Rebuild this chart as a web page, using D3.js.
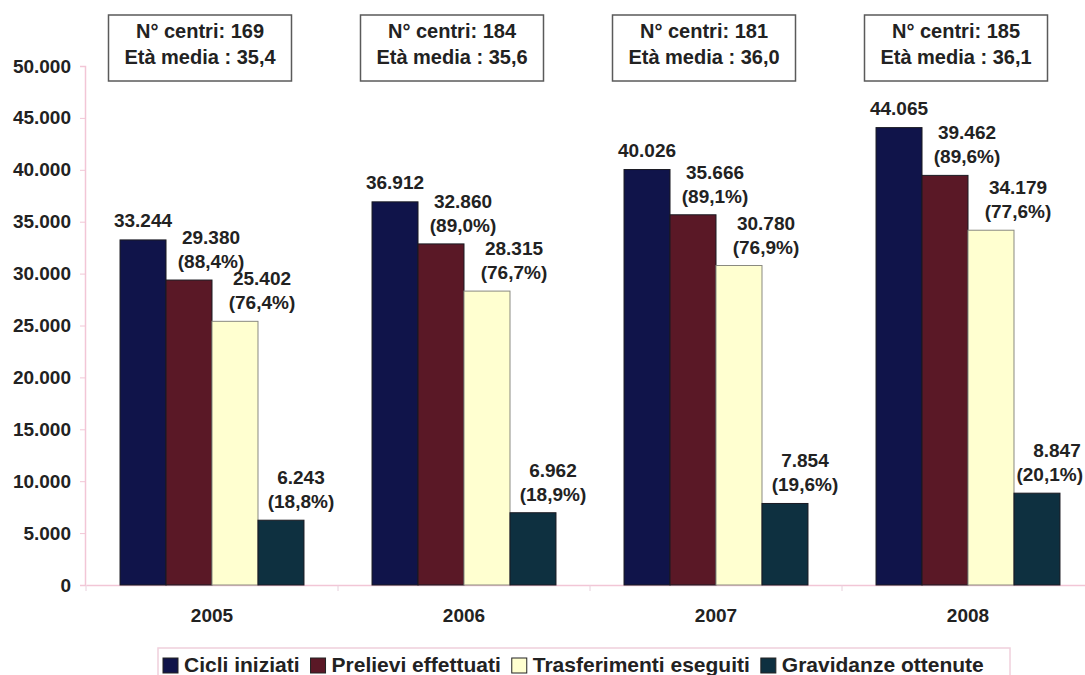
<!DOCTYPE html>
<html><head><meta charset="utf-8">
<script src="https://cdn.jsdelivr.net/npm/d3@7"></script>
<style>
body{margin:0;background:#fff;}
svg text{font-family:"Liberation Sans",Arial,sans-serif;font-weight:bold;fill:#222;}
</style></head>
<body>
<svg id="c" width="1085" height="675"></svg>
<script>
const years = ["2005","2006","2007","2008"];
const seriesNames = ["Cicli iniziati","Prelievi effettuati","Trasferimenti eseguiti","Gravidanze ottenute"];
const cicli = [33244, 36912, 40026, 44065];
const prelievi = [29380, 32860, 35666, 39462];
const trasferimenti = [25402, 28315, 30780, 34179];
const gravidanze = [6243, 6962, 7854, 8847];
const pctPrelievi = ["88,4%","89,0%","89,1%","89,6%"];
const pctTrasferimenti = ["76,4%","76,7%","76,9%","77,6%"];
const pctGravidanze = ["18,8%","18,9%","19,6%","20,1%"];
const centri = [169, 184, 181, 185];
const etaMedia = ["35,4","35,6","36,0","36,1"];
const yTicks = [0,5000,10000,15000,20000,25000,30000,35000,40000,45000,50000];
const colors = ["#10144a","#5a1826","#ffffd0","#0e3040"];

const values = [cicli, prelievi, trasferimenti, gravidanze];
const pcts = [null, pctPrelievi, pctTrasferimenti, pctGravidanze];
const labelShift = [0, 22, 27, 20];
const fmt = v => d3.format(",")(v).replace(/,/g,".");
const W = 1085;

const svg = d3.select("#c");
const x0 = d3.scaleBand().domain(years).range([86,1094]).paddingInner(0.27).paddingOuter(0.135);
const x1 = d3.scaleBand().domain(seriesNames).range([0, x0.bandwidth()]);
const y = d3.scaleLinear().domain([0,50000]).range([585,66]);

// y axis
const yAxis = svg.append("g").attr("transform","translate(85,0)")
  .call(d3.axisLeft(y).tickValues(yTicks).tickSize(5).tickPadding(9).tickFormat(fmt));
yAxis.select(".domain").attr("stroke","#f2c6d6").attr("stroke-width",1.5);
yAxis.selectAll(".tick line").attr("stroke","#f2c6d6");
yAxis.selectAll(".tick text").style("font-size","19px").attr("fill","#222");

// x axis
const xAxis = svg.append("g").attr("transform","translate(0,585)")
  .call(d3.axisBottom(x0).tickSize(0).tickPadding(24));
xAxis.select(".domain").attr("stroke","#f2c6d6").attr("stroke-width",1.5);
xAxis.selectAll(".tick text").style("font-size","19px").attr("fill","#222");
svg.append("g").selectAll("line").data(years.concat(["end"])).join("line")
  .attr("x1",(d,i)=>x0.step()*i+86).attr("x2",(d,i)=>x0.step()*i+86)
  .attr("y1",585).attr("y2",591).attr("stroke","#e8d0dc");

// bars
const groups = svg.append("g").selectAll("g").data(years).join("g")
  .attr("transform", d => `translate(${x0(d)},0)`);
seriesNames.forEach((s, si) => {
  groups.append("rect")
    .attr("x", x1(s)).attr("width", x1.bandwidth())
    .attr("y", (d,i) => y(values[si][i]))
    .attr("height", (d,i) => y(0) - y(values[si][i]))
    .attr("fill", colors[si])
    .attr("stroke", si===2 ? "#8a8a80" : "#1a1a22").attr("stroke-width",1);
});

// value labels (kept inside the picture)
function fitLabel(t, gx, cx){
  const w = t.node().getComputedTextLength();
  const maxC = W - 2 - w/2 - gx;
  if (cx > maxC) t.attr("x", maxC);
}
seriesNames.forEach((s, si) => {
  groups.each(function(d,i){
    const g = d3.select(this);
    const gx = x0(d);
    const cx = x1(s) + x1.bandwidth()/2 + labelShift[si];
    const top = y(values[si][i]);
    if (si === 0) {
      const t = g.append("text").attr("x",cx).attr("y",top-13).attr("text-anchor","middle")
        .style("font-size","19px").text(fmt(values[si][i]));
      fitLabel(t, gx, cx);
    } else {
      const t1 = g.append("text").attr("x",cx).attr("y",top-36).attr("text-anchor","middle")
        .style("font-size","19px").text(fmt(values[si][i]));
      const t2 = g.append("text").attr("x",cx).attr("y",top-12).attr("text-anchor","middle")
        .style("font-size","19px").text("(" + pcts[si][i] + ")");
      fitLabel(t1, gx, cx);
      fitLabel(t2, gx, cx);
    }
  });
});

// info boxes
groups.each(function(d,i){
  const g = d3.select(this);
  const cx = x0.bandwidth()/2 - 12;
  g.append("rect").attr("x",cx-91.5).attr("y",15).attr("width",183).attr("height",66)
    .attr("fill","#fff").attr("stroke","#5a5a5a").attr("stroke-width",1.5);
  g.append("text").attr("x",cx).attr("y",38).attr("text-anchor","middle")
    .style("font-size","20px").text("N° centri: " + centri[i]);
  g.append("text").attr("x",cx).attr("y",64).attr("text-anchor","middle")
    .style("font-size","20px").text("Età media : " + etaMedia[i]);
});

// legend
const lg = svg.append("g");
lg.append("rect").attr("x",158).attr("y",648).attr("width",852).attr("height",40)
  .attr("fill","#fff").attr("stroke","#f0d0dc").attr("stroke-width",1.5);
let lx = 163;
seriesNames.forEach((s, si) => {
  lg.append("rect").attr("x",lx).attr("y",658).attr("width",15).attr("height",15)
    .attr("fill",colors[si]).attr("stroke","#222").attr("stroke-width",1);
  const t = lg.append("text").attr("x",lx+21).attr("y",672)
    .style("font-size","21px").text(s);
  lx += 21 + t.node().getComputedTextLength() + 11;
});
</script>
</body></html>
